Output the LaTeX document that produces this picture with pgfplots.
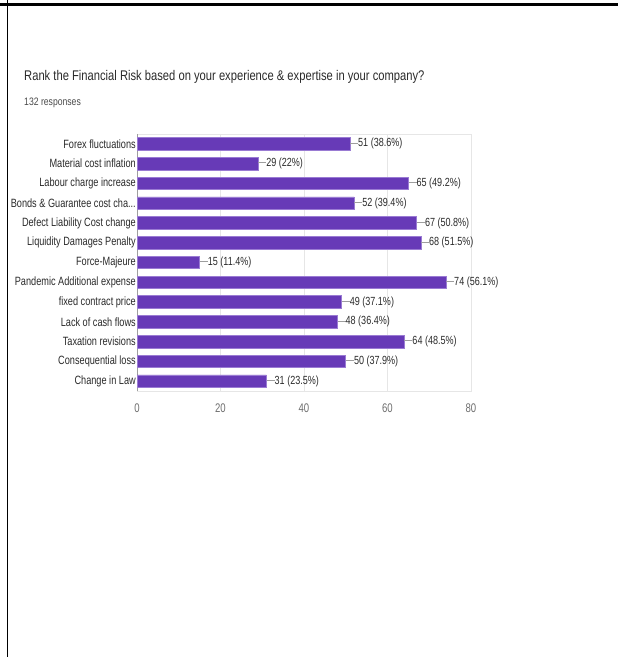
\documentclass[border=0pt]{standalone}
\usepackage{fontspec}
\setmainfont{Liberation Sans}[FakeStretch=0.765]
\newfontfamily\titlefont{Liberation Sans}[FakeStretch=0.80]
\usepackage{pgfplots}
\usepackage{pgfplotstable}
\pgfplotsset{compat=1.18}
\definecolor{barfill}{HTML}{673AB7}
\definecolor{baredge}{HTML}{9A7BD3}
\definecolor{gridc}{HTML}{E6E6E6}
\definecolor{axisc}{HTML}{9E9E9E}
\definecolor{txt}{HTML}{2A2A2A}
\definecolor{ticktxt}{HTML}{6E6E6E}
\newcommand{\threedots}{.{}.{}.}

\pgfplotstableread[col sep=comma]{
idx,val,lab
0,51,51 (38.6\%)
1,29,29 (22\%)
2,65,65 (49.2\%)
3,52,52 (39.4\%)
4,67,67 (50.8\%)
5,68,68 (51.5\%)
6,15,15 (11.4\%)
7,74,74 (56.1\%)
8,49,49 (37.1\%)
9,48,48 (36.4\%)
10,64,64 (48.5\%)
11,50,50 (37.9\%)
12,31,31 (23.5\%)
}\datatable

\begin{document}
\begin{tikzpicture}
\useasboundingbox (0,0) rectangle (618bp,657bp);
% frame lines
\draw[line width=2.6bp, black] (0,652.5bp) -- (618bp,652.5bp);
\draw[line width=1.6bp, black] (7.5bp,657bp) -- (7.5bp,623bp);
\draw[line width=0.8bp, black] (7bp,623bp) -- (7bp,192bp);
\draw[line width=1.6bp, black] (7.5bp,192bp) -- (7.5bp,0bp);
% titles
\node[anchor=base west, inner sep=0, text=txt, font=\titlefont\fontsize{14bp}{16bp}\selectfont] at (24bp,576bp) {Rank the Financial Risk based on your experience \& expertise in your company?};
\node[anchor=base west, inner sep=0, text=txt!85, font=\titlefont\fontsize{10.8bp}{12bp}\selectfont] at (24bp,551bp) {132 responses};

\begin{axis}[
  at={(137bp,266bp)}, anchor=south west,
  scale only axis, width=334bp, height=257bp,
  xbar, bar width=12.5bp,
  xmin=0, xmax=80, ymin=-0.5, ymax=12.5,
  y dir=reverse,
  axis line style={gridc, line width=0.8bp},
  xtick={0,20,40,60,80},
  xmajorgrids, grid style={gridc, line width=0.8bp},
  major tick length=0,
  ytick={0,1,2,3,4,5,6,7,8,9,10,11,12},
  yticklabels={Forex fluctuations, Material cost inflation, Labour charge increase, Bonds \& Guarantee cost cha\threedots, Defect Liability Cost change, Liquidity Damages Penalty, Force-Majeure, Pandemic Additional expense, fixed contract price, Lack of cash flows, Taxation revisions, Consequential loss, Change in Law},
  yticklabel style={text=txt, font=\fontsize{12bp}{13bp}\selectfont, inner xsep=1bp},
  xticklabel style={text=ticktxt, font=\fontsize{12.5bp}{13bp}\selectfont, yshift=-9bp},
  /pgf/number format/assume math mode=true,
  point meta=explicit symbolic,
  nodes near coords={\textcolor{axisc}{\rule[0.3em]{8bp}{0.7bp}}\pgfplotspointmeta},
  nodes near coords style={anchor=west, inner xsep=0pt, text=txt, font=\fontsize{11.8bp}{13bp}\selectfont},
  clip=false,
]
\draw[axisc, line width=0.9bp] (axis cs:0,-0.5) -- (axis cs:0,12.5);
\addplot[draw=baredge, fill=barfill, line width=0.6bp] table[x=val, y=idx, meta=lab] {\datatable};
\end{axis}
\end{tikzpicture}
\end{document}
